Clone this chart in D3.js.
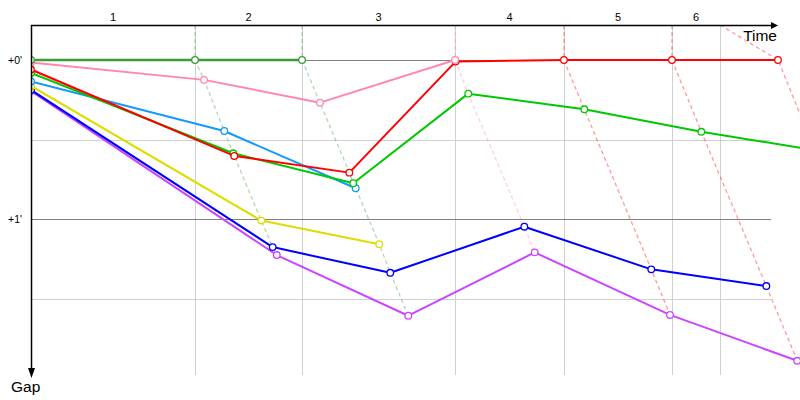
<!DOCTYPE html>
<html>
<head>
<meta charset="utf-8">
<script src="https://cdn.jsdelivr.net/npm/d3@7"></script>
<style>
  html, body { margin: 0; padding: 0; background: #fff; }
  svg { display: block; font-family: "Liberation Sans", Arial, sans-serif; }
</style>
</head>
<body>
<svg id="chart" width="800" height="400"></svg>
<script>
// ---- data (time in seconds since start, gap to leader in seconds) ----
const lapLabels = ["1", "2", "3", "4", "5", "6"];
const lapGridTimes = [0, 149.1, 246.4, 385.5, 484.5, 582.7, 626.4];   // lap boundaries
const lapLineStartTimes = [149.1, 246.4, 385.5, 484.5, 582.7, 626.4]; // top of each lap line (laps 1..6)
const gapTicks = [0, 60];
const gapTickLabels = ["+0'", "+1'"];
const gapMinorTicks = [30, 90];

const carNames = ["darkgreen", "pink", "red", "green", "lightblue", "yellow", "blue", "magenta"];
const carColors = ["#3c9c3c", "#ff88aa", "#ff0000", "#00c800", "#1199ff", "#dddd00", "#0000ff", "#cc44ff"];

const darkgreenTimes = [0, 149.1, 246.4];
const darkgreenGaps  = [0, 0, 0];
const pinkTimes = [0, 157.3, 262.7, 385.5];
const pinkGaps  = [0.9, 7.5, 16.1, 0];
const redTimes = [0, 184.8, 289.4, 386.0, 484.5, 582.7, 679.1];
const redGaps  = [3.6, 36.2, 42.5, 0.6, 0, 0, 0];
const greenTimes = [0, 183.9, 293.0, 397.5, 503.0, 609.4, 712.7];
const greenGaps  = [4.9, 35.2, 46.5, 12.7, 18.6, 27.1, 34.0];
const lightblueTimes = [0, 175.7, 295.2];
const lightblueGaps  = [8.1, 26.8, 48.4];
const yellowTimes = [0, 209.4, 316.6];
const yellowGaps  = [9.8, 60.6, 69.5];
const blueTimes = [0, 219.7, 326.6, 448.5, 563.9, 668.5];
const blueGaps  = [11.3, 70.6, 80.3, 62.9, 79.0, 85.3];
const magentaTimes = [0, 223.4, 343.0, 457.9, 580.9, 696.6];
const magentaGaps  = [11.7, 73.6, 96.5, 72.6, 96.2, 113.5];

const carTimes = [darkgreenTimes, pinkTimes, redTimes, greenTimes, lightblueTimes, yellowTimes, blueTimes, magentaTimes];
const carGaps  = [darkgreenGaps, pinkGaps, redGaps, greenGaps, lightblueGaps, yellowGaps, blueGaps, magentaGaps];

(function () {
// ---- layout ----
const pLeft = 31, pTop = 25, pRight = 778, pBottom = 375, gridRight = 771;
const x = d3.scaleLinear().domain([0, 679.1]).range([pLeft, pRight]);
const y = d3.scaleLinear().domain([0, 60]).range([60, 219]);
const gapTop = y.invert(pTop);

const svg = d3.select("#chart");
svg.append("defs").append("clipPath").attr("id", "plotClip")
  .append("rect").attr("x", pLeft + 0.5).attr("y", pTop).attr("width", 800 - pLeft).attr("height", pBottom - pTop);

const cars = carNames.map((name, i) => ({
  name, color: carColors[i], width: i === 0 ? 2.6 : 2,
  pts: carTimes[i].map((t, k) => ({ t, g: carGaps[i][k], lap: k }))
}));

// ---- grid ----
const grid = svg.append("g");
grid.selectAll("line.v").data(lapGridTimes.slice(1)).join("line")
  .attr("x1", d => Math.round(x(d)) + 0.5).attr("x2", d => Math.round(x(d)) + 0.5)
  .attr("y1", pTop).attr("y2", pBottom)
  .attr("stroke", "#d0d0d0").attr("stroke-width", 1);
grid.selectAll("line.hm").data(gapMinorTicks).join("line")
  .attr("x1", pLeft).attr("x2", gridRight)
  .attr("y1", d => Math.round(y(d)) + 0.5).attr("y2", d => Math.round(y(d)) + 0.5)
  .attr("stroke", "#d0d0d0").attr("stroke-width", 1);
grid.selectAll("line.h").data(gapTicks).join("line")
  .attr("x1", pLeft).attr("x2", gridRight)
  .attr("y1", d => Math.round(y(d)) + 0.5).attr("y2", d => Math.round(y(d)) + 0.5)
  .attr("stroke", "#808080").attr("stroke-width", 1);

const plot = svg.append("g").attr("clip-path", "url(#plotClip)");

// ---- lap lines (dashed) ----
const lineGen = d3.line().x(d => x(d.t)).y(d => y(d.g));
const lapLines = lapLineStartTimes.map((st, idx) => {
  const lap = idx + 1;
  const pts = [];
  let leader = null;
  cars.forEach(c => {
    const p = c.pts[lap];
    if (p) { pts.push(p); if (!leader || p.g < leader.g) leader = { g: p.g, color: c.color }; }
  });
  pts.sort((a, b) => a.g - b.g);
  return { color: leader.color, pts: [{ t: st, g: gapTop }].concat(pts) };
});
plot.append("g").selectAll("path").data(lapLines).join("path")
  .attr("d", d => lineGen(d.pts))
  .attr("fill", "none").attr("stroke", d => d.color)
  .attr("stroke-opacity", 0.4).attr("stroke-width", 1.3)
  .attr("stroke-dasharray", "4,3");

// ---- car lines ----
const carG = plot.append("g").selectAll("g").data(cars.slice().reverse()).join("g");
carG.append("path")
  .attr("d", d => lineGen(d.pts))
  .attr("fill", "none").attr("stroke", d => d.color).attr("stroke-width", d => d.width)
  .attr("stroke-linejoin", "round");
carG.selectAll("circle").data(d => d.pts.map(p => ({ ...p, color: d.color }))).join("circle")
  .attr("cx", d => x(d.t)).attr("cy", d => y(d.g)).attr("r", 3.3)
  .attr("fill", "#fff").attr("stroke", d => d.color).attr("stroke-width", 1.3);

// ---- axes ----
const ax = svg.append("g");
ax.append("line").attr("x1", pLeft).attr("x2", pRight - 4).attr("y1", pTop + 0.5).attr("y2", pTop + 0.5)
  .attr("stroke", "#000").attr("stroke-width", 1.5);
ax.append("path").attr("d", `M${pRight - 7},${pTop - 3} L${pRight},${pTop + 0.5} L${pRight - 7},${pTop + 4} Z`).attr("fill", "#000");
ax.append("line").attr("x1", pLeft + 0.5).attr("x2", pLeft + 0.5).attr("y1", pTop).attr("y2", pBottom - 4)
  .attr("stroke", "#000").attr("stroke-width", 1.5);
ax.append("path").attr("d", `M${pLeft - 3},${pBottom - 7} L${pLeft + 0.5},${pBottom + 3} L${pLeft + 4},${pBottom - 7} Z`).attr("fill", "#000");

// lap labels
const mids = lapLabels.map((l, i) => ({ l, t: (lapGridTimes[i] + lapGridTimes[i + 1]) / 2 }));
ax.selectAll("text.lap").data(mids).join("text")
  .attr("x", d => x(d.t)).attr("y", 21).attr("text-anchor", "middle")
  .attr("font-size", 11).attr("fill", "#000").text(d => d.l);

// gap labels
ax.selectAll("text.gap").data(gapTicks).join("text")
  .attr("x", 8).attr("y", d => y(d) + 3.5)
  .attr("font-size", 10.5).attr("fill", "#000").text((d, i) => gapTickLabels[i]);

ax.append("text").attr("x", 777).attr("y", 41).attr("text-anchor", "end")
  .attr("font-size", 15.5).attr("fill", "#000").text("Time");
ax.append("text").attr("x", 11).attr("y", 392)
  .attr("font-size", 15.5).attr("fill", "#000").text("Gap");
})();
</script>
</body>
</html>
